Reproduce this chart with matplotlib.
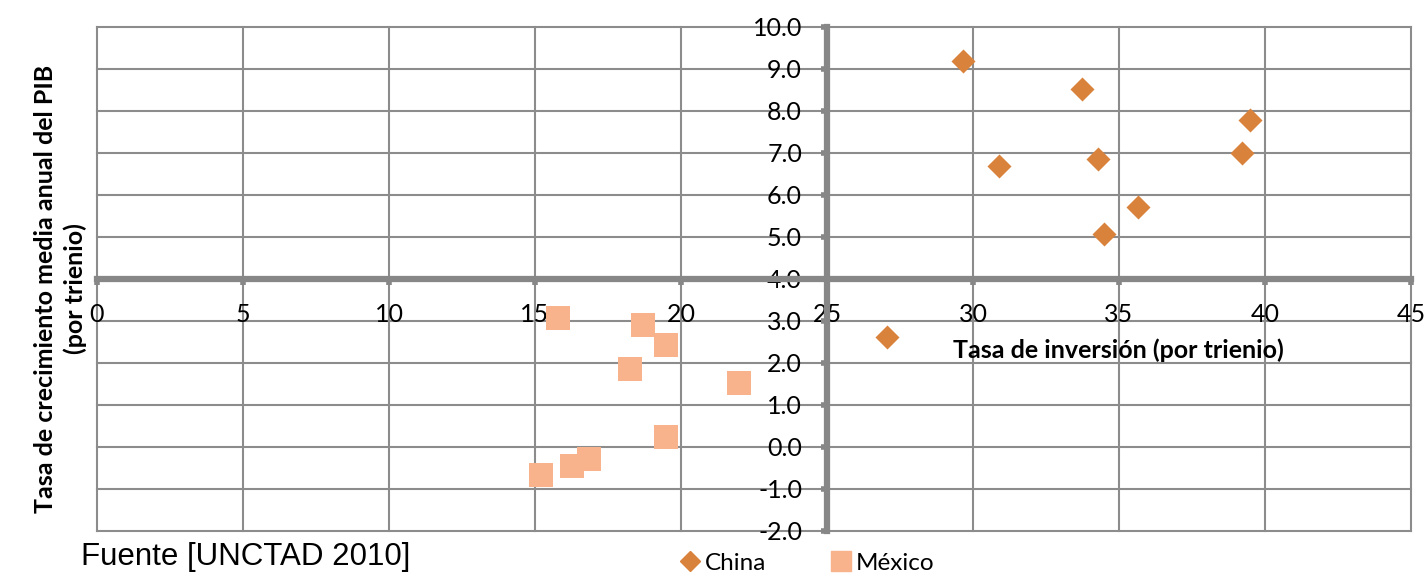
import matplotlib
matplotlib.use("Agg")
import matplotlib.pyplot as plt
from matplotlib.lines import Line2D

china_x = [29.67, 33.72, 39.49, 39.21, 30.88, 34.28, 35.66, 34.50, 27.05]
china_y = [9.20, 8.52, 7.78, 7.01, 6.69, 6.85, 5.72, 5.07, 2.62]
mexico_x = [15.78, 18.69, 19.48, 18.26, 21.98, 19.48, 15.21, 16.27, 16.85]
mexico_y = [3.06, 2.90, 2.43, 1.85, 1.52, 0.24, -0.67, -0.45, -0.29]
x_ticks = [0, 5, 10, 15, 20, 25, 30, 35, 40, 45]
y_ticks = [-2, -1, 0, 1, 2, 3, 4, 5, 6, 7, 8, 9, 10]

china_color = "#D9823B"
mexico_color = "#F8B28C"
grid_color = "#8C8C8C"
axis_color = "#878787"

plt.rcParams['font.family'] = ['Lato', 'DejaVu Sans']

fig = plt.figure(figsize=(14.25, 5.77), dpi=100)
ax = fig.add_axes([97/1425, 1-531/577, 1314/1425, 504/577])
ax.set_xlim(0, 45)
ax.set_ylim(-2, 10)

for xv in x_ticks:
    ax.axvline(xv, color=grid_color, lw=1.5, zorder=1, clip_on=False)
for yv in y_ticks:
    ax.axhline(yv, color=grid_color, lw=1.5, zorder=1, clip_on=False)

ax.spines['top'].set_visible(False)
ax.spines['right'].set_visible(False)
ax.spines['left'].set_position(('data', 25))
ax.spines['bottom'].set_position(('data', 4))
for s in ('left', 'bottom'):
    ax.spines[s].set_linewidth(4.5)
    ax.spines[s].set_color(axis_color)
    ax.spines[s].set_zorder(2)

ax.set_xticks(x_ticks)
ax.set_xticklabels([str(v) for v in x_ticks])
ax.set_yticks(y_ticks)
ax.set_yticklabels([f"{v:.1f}" for v in y_ticks])
ax.tick_params(axis='both', direction='out', length=4, width=4, color=axis_color,
               labelsize=18, labelcolor='black')
ax.tick_params(axis='x', pad=13)
ax.tick_params(axis='y', pad=14)

ax.scatter(china_x, china_y, marker='D', s=150, color=china_color, zorder=4, linewidths=0)
ax.scatter(mexico_x, mexico_y, marker='s', s=300, color=mexico_color, zorder=4, linewidths=0)

fig.text(1118/1425, 1-350/577, "Tasa de inversión (por trienio)", fontsize=18,
         fontweight='bold', ha='center', va='center')
fig.text(46/1425, 1-289/577, "Tasa de crecimiento media anual del PIB", fontsize=18,
         fontweight='bold', ha='center', va='center', rotation=90)
fig.text(75/1425, 1-289/577, "(por trienio)", fontsize=18,
         fontweight='bold', ha='center', va='center', rotation=90)

fig.text(81/1425, 1-557/577, "Fuente [UNCTAD 2010]", fontsize=22.5,
         family='Liberation Sans', ha='left', va='center')

handles = [Line2D([], [], marker='D', color=china_color, ls='none', markersize=10),
           Line2D([], [], marker='s', color=mexico_color, ls='none', markersize=14)]
fig.legend(handles, ["China", "México"], loc='center', bbox_to_anchor=(806/1425, 1-563/577),
           ncol=2, frameon=False, fontsize=17.5, handletextpad=0.1, columnspacing=2.6,
           handlelength=1.0)

fig.savefig("out.png", dpi=100)
